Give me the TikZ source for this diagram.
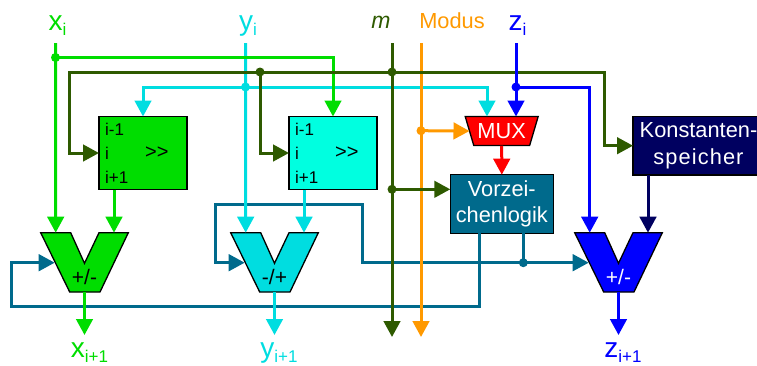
\documentclass[tikz,border=0pt]{standalone}
\usepackage{fontspec}
\setmainfont{Liberation Sans}
\usepackage{xcolor}
\usepackage{tikz}
\usetikzlibrary{arrows.meta,positioning,shapes.geometric}
\definecolor{xgreen}{HTML}{00DD00}
\definecolor{yline}{HTML}{00DDE0}
\definecolor{ybox}{HTML}{00FFE0}
\definecolor{mgreen}{HTML}{2E5A00}
\definecolor{modus}{HTML}{FF9900}
\definecolor{zblue}{HTML}{0000FF}
\definecolor{konstblue}{HTML}{000060}
\definecolor{signteal}{HTML}{006A8C}
\newcommand{\sigsub}[2]{#1\raisebox{-5pt}{\fontsize{17}{17}\selectfont #2}}

\begin{document}
\begin{tikzpicture}[
    x=1pt, y=-1pt,
    >={Triangle[length=16pt,width=16.5pt]},
    sig/.style={line width=3pt},
    box/.style={draw, line width=1.3pt, inner sep=0pt, outer sep=0pt, align=center},
    shiftbox/.style={box, minimum width=88pt, minimum height=73pt},
    bits/.style={inner sep=0pt, align=left, font=\fontsize{17}{24}\selectfont},
    whitebox/.style={box, text=white, font=\fontsize{21.8}{26.5}\selectfont},
    dot/.style={circle, inner sep=0pt, minimum size=9pt},
    signame/.style={anchor=base, inner sep=0pt, font=\fontsize{28}{30}\selectfont},
    addlabel/.style={inner sep=0pt, font=\fontsize{21}{24}\selectfont},
    adder/.pic={
      \draw[line width=1.3pt, fill=#1] (0,0) -- (30,0) -- (43.8,30.6) -- (58.3,0) -- (87.6,0)
        -- (59.3,59.3) -- (29,59.3) -- cycle;
      \coordinate (-a) at (15,0);
      \coordinate (-b) at (73.3,0);
      \coordinate (-l) at (14,30);
      \coordinate (-o) at (43.8,59.3);
      \coordinate (-t) at (43.8,44);
    },
  ]
    \useasboundingbox (0,0) rectangle (757,365);

    % Signal names
    \node[signame, text=xgreen] (xname) at (57.5,30) {\sigsub{x}{i}};
    \node[signame, text=yline] (yname) at (248,30) {\sigsub{y}{i}};
    \node[signame, text=mgreen, font=\fontsize{23}{28}\selectfont\itshape] (mname) at (381,28.5) {m};
    \node[signame, text=modus, font=\fontsize{21.8}{26}\selectfont] (modname) at (452,28) {Modus};
    \node[signame, text=zblue] (zname) at (517.5,30) {\sigsub{z}{i}};
    \node[signame, text=xgreen] (xnext) at (89.5,357.5) {\sigsub{x}{i+1}};
    \node[signame, text=yline] (ynext) at (279,357.5) {\sigsub{y}{i+1}};
    \node[signame, text=zblue] (znext) at (623,357.5) {\sigsub{z}{i+1}};

    % Free line ends
    \coordinate (xin) at (55.5,43);
    \coordinate (yin) at (245.5,43);
    \coordinate (min) at (392,43);
    \coordinate (modin) at (421,43);
    \coordinate (zin) at (516,43);
    \coordinate (mout) at (392,337);
    \coordinate (modout) at (421,337);
    \coordinate (xout) at (84.5,335);
    \coordinate (yout) at (274.5,335);
    \coordinate (zout) at (618.5,335);
    \coordinate (mleft) at (69.5,72);
    \coordinate (mturn) at (604,145.7);
    \coordinate (yturn) at (487,87);
    \coordinate (muxy) at (487,116.5);
    \coordinate (muxz) at (516,116.5);
    \coordinate (fba) at (479.7,306.7);
    \coordinate (fbb) at (11,306.7);
    \coordinate (fbc) at (362.3,262.7);
    \coordinate (fbd) at (362.3,204.3);
    \coordinate (fbe) at (215.7,204.3);

    % Shifters
    \node[shiftbox, fill=xgreen] (shx) at (143,153) {};
    \node[shiftbox, fill=ybox, right=102pt of shx] (shy) {};
    \node[bits, right=6pt of shx.west] (bitsx) {i-1\\i\\i+1};
    \node[bits, right=6pt of shy.west] (bitsy) {i-1\\i\\i+1};
    \node[bits, font=\fontsize{20}{24}\selectfont, right=46pt of shx.west] (markx) {>{}>};
    \node[bits, font=\fontsize{20}{24}\selectfont, right=46pt of shy.west] (marky) {>{}>};

    % Control blocks
    \node[trapezium, draw, line width=1.3pt, fill=red, text=white, inner sep=0pt, outer sep=0pt,
      shape border rotate=180, trapezium angle=64, trapezium stretches=true,
      minimum width=73pt, minimum height=29pt, font=\fontsize{21.8}{26}\selectfont] (mux) at (501.7,131) {MUX};
    \node[whitebox, fill=signteal, minimum width=103pt, minimum height=58.6pt] (vorz) at (501.8,204) {Vorzei-\\chenlogik};
    \node[whitebox, fill=konstblue, minimum width=131pt, minimum height=58.6pt] (konst) at (698.5,145.7) {Konstanten-\\{\addfontfeature{LetterSpace=5}speicher}};

    % Adders
    \pic (addx) at (40.7,232.7) {adder=xgreen};
    \pic (addy) at (230.7,232.7) {adder=yline};
    \pic (addz) at (574.7,232.7) {adder=zblue};
    \node[addlabel] (labx) at (addx-t) {+/-};
    \node[addlabel] (laby) at (addy-t) {-/+};
    \node[addlabel, text=white] (labz) at (addz-t) {+/-};

    % Junctions
    \node[dot, fill=signteal] (jteal) at (523.3,262.7) {};
    \node[dot, fill=yline] (jy) at (245.5,87) {};
    \node[dot, fill=xgreen] (jx) at (55.5,57.5) {};
    \node[dot, fill=modus] (jmod) at (421,130.7) {};
    \node[dot, fill=mgreen] (jma) at (260,72) {};
    \node[dot, fill=mgreen] (jmb) at (392,72) {};
    \node[dot, fill=mgreen] (jmc) at (392,189.3) {};
    \node[dot, fill=zblue] (jz) at (516,87) {};

    % Sign feedback
    \begin{scope}[sig, signteal]
      \draw[->] (vorz.south -| fba) -- (fba) -- (fbb) |- (addx-l);
      \draw (vorz.south -| jteal) -- (jteal.center);
      \draw[->] (jteal.center) -- (addz-l);
      \draw[->] (jteal.center) -- (fbc) -- (fbd) -- (fbe) |- (addy-l);
    \end{scope}

    % y path
    \begin{scope}[sig, yline]
      \draw[->] (yin) -- (addy-a);
      \draw[->] (jy.center) -| (shx.north);
      \draw[->] (jy.center) -- (yturn) -- (muxy);
      \draw[->] (shy.south -| addy-b) -- (addy-b);
      \draw[->] (addy-o) -- (yout);
    \end{scope}

    % x path
    \begin{scope}[sig, xgreen]
      \draw[->] (xin) -- (addx-a);
      \draw[->] (jx.center) -| (shy.north);
      \draw[->] (shx.south -| addx-b) -- (addx-b);
      \draw[->] (addx-o) -- (xout);
    \end{scope}

    % Modus
    \begin{scope}[sig, modus]
      \draw[->] (modin) -- (modout);
      \draw[->] (jmod.center) -- (mux.west);
    \end{scope}

    % m
    \begin{scope}[sig, mgreen]
      \draw[->] (min) -- (mout);
      \draw[->] (jmb.center) -- (mleft) |- (shx.west);
      \draw[->] (jma.center) |- (shy.west);
      \draw[->] (jmb.center) -| (mturn) -- (konst.west);
      \draw[->] (jmc.center) -- (vorz.west |- jmc);
    \end{scope}

    % z path
    \begin{scope}[sig, zblue]
      \draw[->] (zin) -- (muxz);
      \draw[->] (jz.center) -| (addz-a);
      \draw[->] (addz-o) -- (zout);
    \end{scope}

    \draw[sig, red, ->] (mux.south) -- (vorz.north);
    \draw[sig, konstblue, ->] (konst.south -| addz-b) -- (addz-b);
  \end{tikzpicture}
\end{document}
